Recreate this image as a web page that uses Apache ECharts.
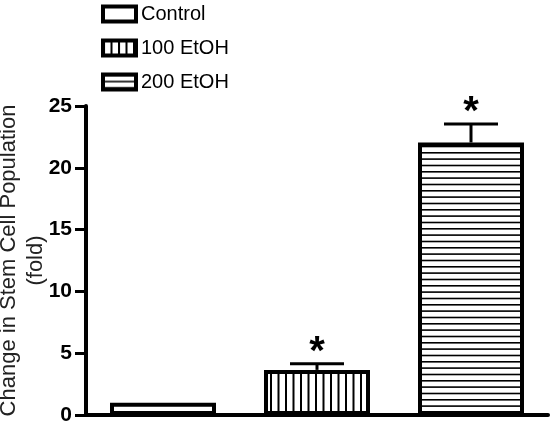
<!DOCTYPE html>
<html>
<head>
<meta charset="utf-8">
<script src="https://cdn.jsdelivr.net/npm/echarts@6/dist/echarts.min.js"></script>
<style>
html,body{margin:0;padding:0;background:#fff;}
#chart{width:550px;height:424px;}
</style>
</head>
<body>
<div id="chart"></div>
<script>
// ---- data ----
const categories = ['Control', '100 EtOH', '200 EtOH'];
const means = [1.0, 3.65, 22.05];
const errors = [0, 0.5, 1.5];
const significance = ['', '*', '*'];
const yMin = 0, yMax = 25, yInterval = 5;
const yTitle = 'Change in Stem Cell Population\n(fold)';

// ---- fill patterns ----
function makePattern(kind) {
  const c = document.createElement('canvas');
  if (kind === 'none') { c.width = 4; c.height = 4; const g = c.getContext('2d'); g.fillStyle = '#fff'; g.fillRect(0,0,4,4); return c; }
  if (kind === 'vertical') {
    c.width = 15; c.height = 4;
    const g = c.getContext('2d');
    g.fillStyle = '#fff'; g.fillRect(0, 0, 15, 4);
    g.fillStyle = '#000'; g.fillRect(0, 0, 2, 4); g.fillRect(7.5, 0, 2, 4);
    return c;
  }
  c.width = 4; c.height = 19;
  const g = c.getContext('2d');
  g.fillStyle = '#fff'; g.fillRect(0, 0, 4, 19);
  g.fillStyle = '#000'; g.fillRect(0, 0, 4, 1.6); g.fillRect(0, 6.3, 4, 1.6); g.fillRect(0, 12.7, 4, 1.6);
  return c;
}
const patterns = [makePattern('none'), makePattern('vertical'), makePattern('horizontal')];

const chart = echarts.init(document.getElementById('chart'), null, {renderer: 'canvas'});

const barSeries = categories.map((name, i) => ({
  name: name,
  type: 'bar',
  barWidth: 106,
  barGap: '-100%',
  data: categories.map((c, j) => j === i ? means[i] : '-'),
  itemStyle: {
    color: {image: patterns[i], repeat: 'repeat'},
    borderColor: '#000',
    borderWidth: 4
  },
  emphasis: {disabled: true},
  z: 2
}));

const errSeries = {
  type: 'custom',
  z: 5,
  silent: true,
  data: categories.map((c, i) => [i, means[i], errors[i], significance[i]]),
  renderItem: function (params, api) {
    const i = api.value(0), m = api.value(1), e = api.value(2);
    const sig = significance[i];
    const children = [];
    const base = api.coord([i, m]);
    const top = api.coord([i, m + e]);
    if (e > 0) {
      children.push({type: 'line', shape: {x1: base[0], y1: base[1], x2: top[0], y2: top[1]}, style: {stroke: '#000', lineWidth: 3}});
      children.push({type: 'line', shape: {x1: top[0] - 27, y1: top[1], x2: top[0] + 27, y2: top[1]}, style: {stroke: '#000', lineWidth: 3}});
    }
    if (sig) {
      children.push({type: 'text', x: top[0], y: top[1] + 9, style: {text: sig, fontSize: 40, fontWeight: 'bold', fontFamily: 'Liberation Sans, Arial', fill: '#000', align: 'center', verticalAlign: 'bottom'}});
    }
    return {type: 'group', children: children};
  }
};

chart.setOption({
  backgroundColor: '#fff',
  animation: false,
  legend: {
    data: categories,
    orient: 'vertical',
    left: 101,
    top: 4,
    padding: 0,
    icon: 'rect',
    itemWidth: 33,
    itemHeight: 15,
    itemGap: 14,
    selectedMode: false,
    itemStyle: {borderColor: '#000', borderWidth: 4},
    textStyle: {fontSize: 20, color: '#000', fontFamily: 'Liberation Sans, Arial', padding: [0, 0, 0, 0]}
  },
  grid: {left: 86, right: 2, top: 106, bottom: 9, containLabel: false, outerBoundsMode: 'none'},
  xAxis: {
    type: 'category',
    data: categories,
    axisLine: {lineStyle: {color: '#000', width: 4}},
    axisTick: {show: false},
    axisLabel: {show: false},
    splitLine: {show: false}
  },
  yAxis: {
    type: 'value',
    min: yMin, max: yMax, interval: yInterval,
    name: yTitle,
    nameLocation: 'middle',
    nameGap: 37,
    nameMoveOverlap: false,
    nameTextStyle: {fontSize: 22, color: '#222', fontFamily: 'Liberation Sans, Arial', lineHeight: 27, align: 'center'},
    axisLine: {show: true, lineStyle: {color: '#000', width: 4}},
    axisTick: {show: true, length: 11, lineStyle: {color: '#000', width: 3}},
    axisLabel: {fontSize: 21, fontWeight: 'bold', color: '#000', fontFamily: 'Liberation Sans, Arial', margin: 14},
    splitLine: {show: false}
  },
  series: barSeries.concat([errSeries])
});
</script>
</body>
</html>
